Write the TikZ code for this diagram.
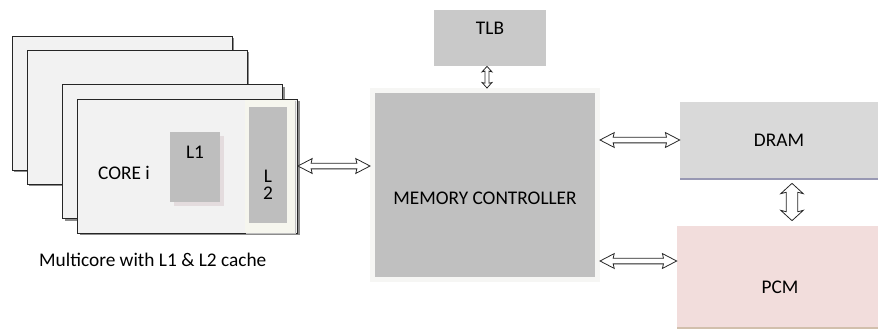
\documentclass[tikz,border=0pt]{standalone}
\usepackage{fontspec}
\setmainfont{Carlito}
\usetikzlibrary{
  arrows.meta,
  positioning,
  calc,
  shadows,
  shapes.arrows
}
\definecolor{CardFill}{RGB}{242,242,242}
\definecolor{CacheGray}{RGB}{190,190,190}
\definecolor{CtrlGray}{RGB}{192,192,192}
\definecolor{TlbGray}{RGB}{201,201,201}
\definecolor{DramGray}{RGB}{217,217,217}
\definecolor{PcmPink}{RGB}{242,221,220}
\definecolor{EdgeGray}{RGB}{246,246,244}
\definecolor{PadCream}{RGB}{246,246,238}
\definecolor{L1Shade}{RGB}{228,220,222}
\tikzset{
  card/.style={
    draw=black!85,
    line width=0.5pt,
    fill=CardFill,
    minimum width=4.4cm,
    minimum height=2.68cm,
    drop shadow={shadow xshift=1.2pt, shadow yshift=-1.2pt, fill=black!45, opacity=1}
  },
  cache/.style={fill=CacheGray, inner sep=0pt},
  pad/.style={fill=PadCream, inner sep=0pt,
    drop shadow={shadow xshift=0.8pt, shadow yshift=-0.8pt, fill=black!25, opacity=1}},
  ctrlbox/.style={
    fill=CtrlGray,
    draw=EdgeGray,
    line width=0.1cm,
    minimum width=4.5cm,
    minimum height=3.78cm,
    drop shadow={shadow xshift=1pt, shadow yshift=-1pt, fill=black!25, opacity=1}
  },
  membox/.style={inner sep=0pt},
  link/.style={double arrow, draw=black!85, fill=white, line width=0.45pt,
    inner xsep=0pt, minimum width=0pt},
  hlink/.style={link, inner ysep=1.4pt, double arrow head extend=2.6pt,
    double arrow tip angle=55, double arrow head indent=0.6pt},
  tlblink/.style={link, inner ysep=0.9pt, double arrow head extend=1.7pt,
    double arrow tip angle=84, double arrow head indent=0.4pt},
  memlink/.style={link, inner ysep=3.1pt, double arrow head extend=3.1pt,
    double arrow tip angle=95, double arrow head indent=0.8pt}
}
% block arrow from #2 to #3 in style #1, named #4
\newcommand{\linkarrow}[4]{%
  \path let \p1=#2, \p2=#3,
    \n1={veclen(\x2-\x1,\y2-\y1)}, \n2={atan2(\y2-\y1,\x2-\x1)} in
    node[#1, minimum height=\n1, rotate=\n2] (#4) at ($#2!0.5!#3$) {};}
\begin{document}
\begin{tikzpicture}[x=0.02cm, y=-0.02cm, font=\fontsize{11}{13}\selectfont]
  \useasboundingbox (0,0) rectangle (878,331);

  % stack of cores
  \node[card] (core1) at (122,103) {};
  \node[card] (core2) at (137,117) {};
  \node[card] (core3) at (172.5,151.5) {};
  \node[card] (core4) at (187.5,166) {};
  \node[pad, minimum width=1cm, minimum height=2.66cm] (l2pad) at (270,166.5) {};
  \node[cache, minimum width=0.76cm, minimum height=2.32cm] (l2) at (268,165) {};
  \node[cache, minimum width=1cm, minimum height=1.4cm,
        drop shadow={shadow xshift=2pt, shadow yshift=-2pt, fill=L1Shade, opacity=1}] (l1) at (195,167) {};
  \node (l1text) at (195,152) {L1};
  \node[align=center, font=\fontsize{11}{9.5}\selectfont] (l2text) at (268,185) {L\\2};
  \node (coretext) at (124,173) {CORE i};
  \node[anchor=west] (caption) at (33,260) {Multicore with L1 \& L2 cache};

  % controller and memories
  \node[ctrlbox] (mc) at (485,185) {};
  \node (mctext) at (485,198) {MEMORY CONTROLLER};
  \node[membox, fill=TlbGray, minimum width=2.24cm, minimum height=1.12cm] (tlb) at (490,38) {};
  \node (tlbtext) at (490,28) {TLB};
  \node[membox, fill=DramGray, minimum width=3.96cm, minimum height=1.52cm,
        drop shadow={shadow xshift=0pt, shadow yshift=-1.2pt, fill=blue!15!gray!70, opacity=1}] (dram) at (779,140) {DRAM};
  \node[membox, fill=PcmPink, minimum width=4.02cm, minimum height=2.02cm,
        drop shadow={shadow xshift=0pt, shadow yshift=-1.2pt, fill=orange!30!gray!50, opacity=1}] (pcm) at (777.5,276.5) {};
  \node (pcmtext) at (780,287) {PCM};

  % links
  \coordinate (pcmin) at ([yshift=0.31cm]pcm.west);
  \coordinate (dramout) at ([xshift=0.26cm, yshift=-0.1cm]dram.south);
  \coordinate (tlbout) at ([xshift=-0.06cm]tlb.south);
  \linkarrow{hlink}{(core4.east)}{(core4.east -| mc.west)}{coremc}
  \linkarrow{tlblink}{(tlbout)}{(tlbout |- mc.north)}{tlbmc}
  \linkarrow{hlink}{(dram.west -| mc.east)}{(dram.west)}{mcdram}
  \linkarrow{hlink}{(pcmin -| mc.east)}{(pcmin)}{mcpcm}
  \linkarrow{memlink}{(dramout)}{([yshift=0.1cm]dramout |- pcm.north)}{drampcm}
\end{tikzpicture}
\end{document}
